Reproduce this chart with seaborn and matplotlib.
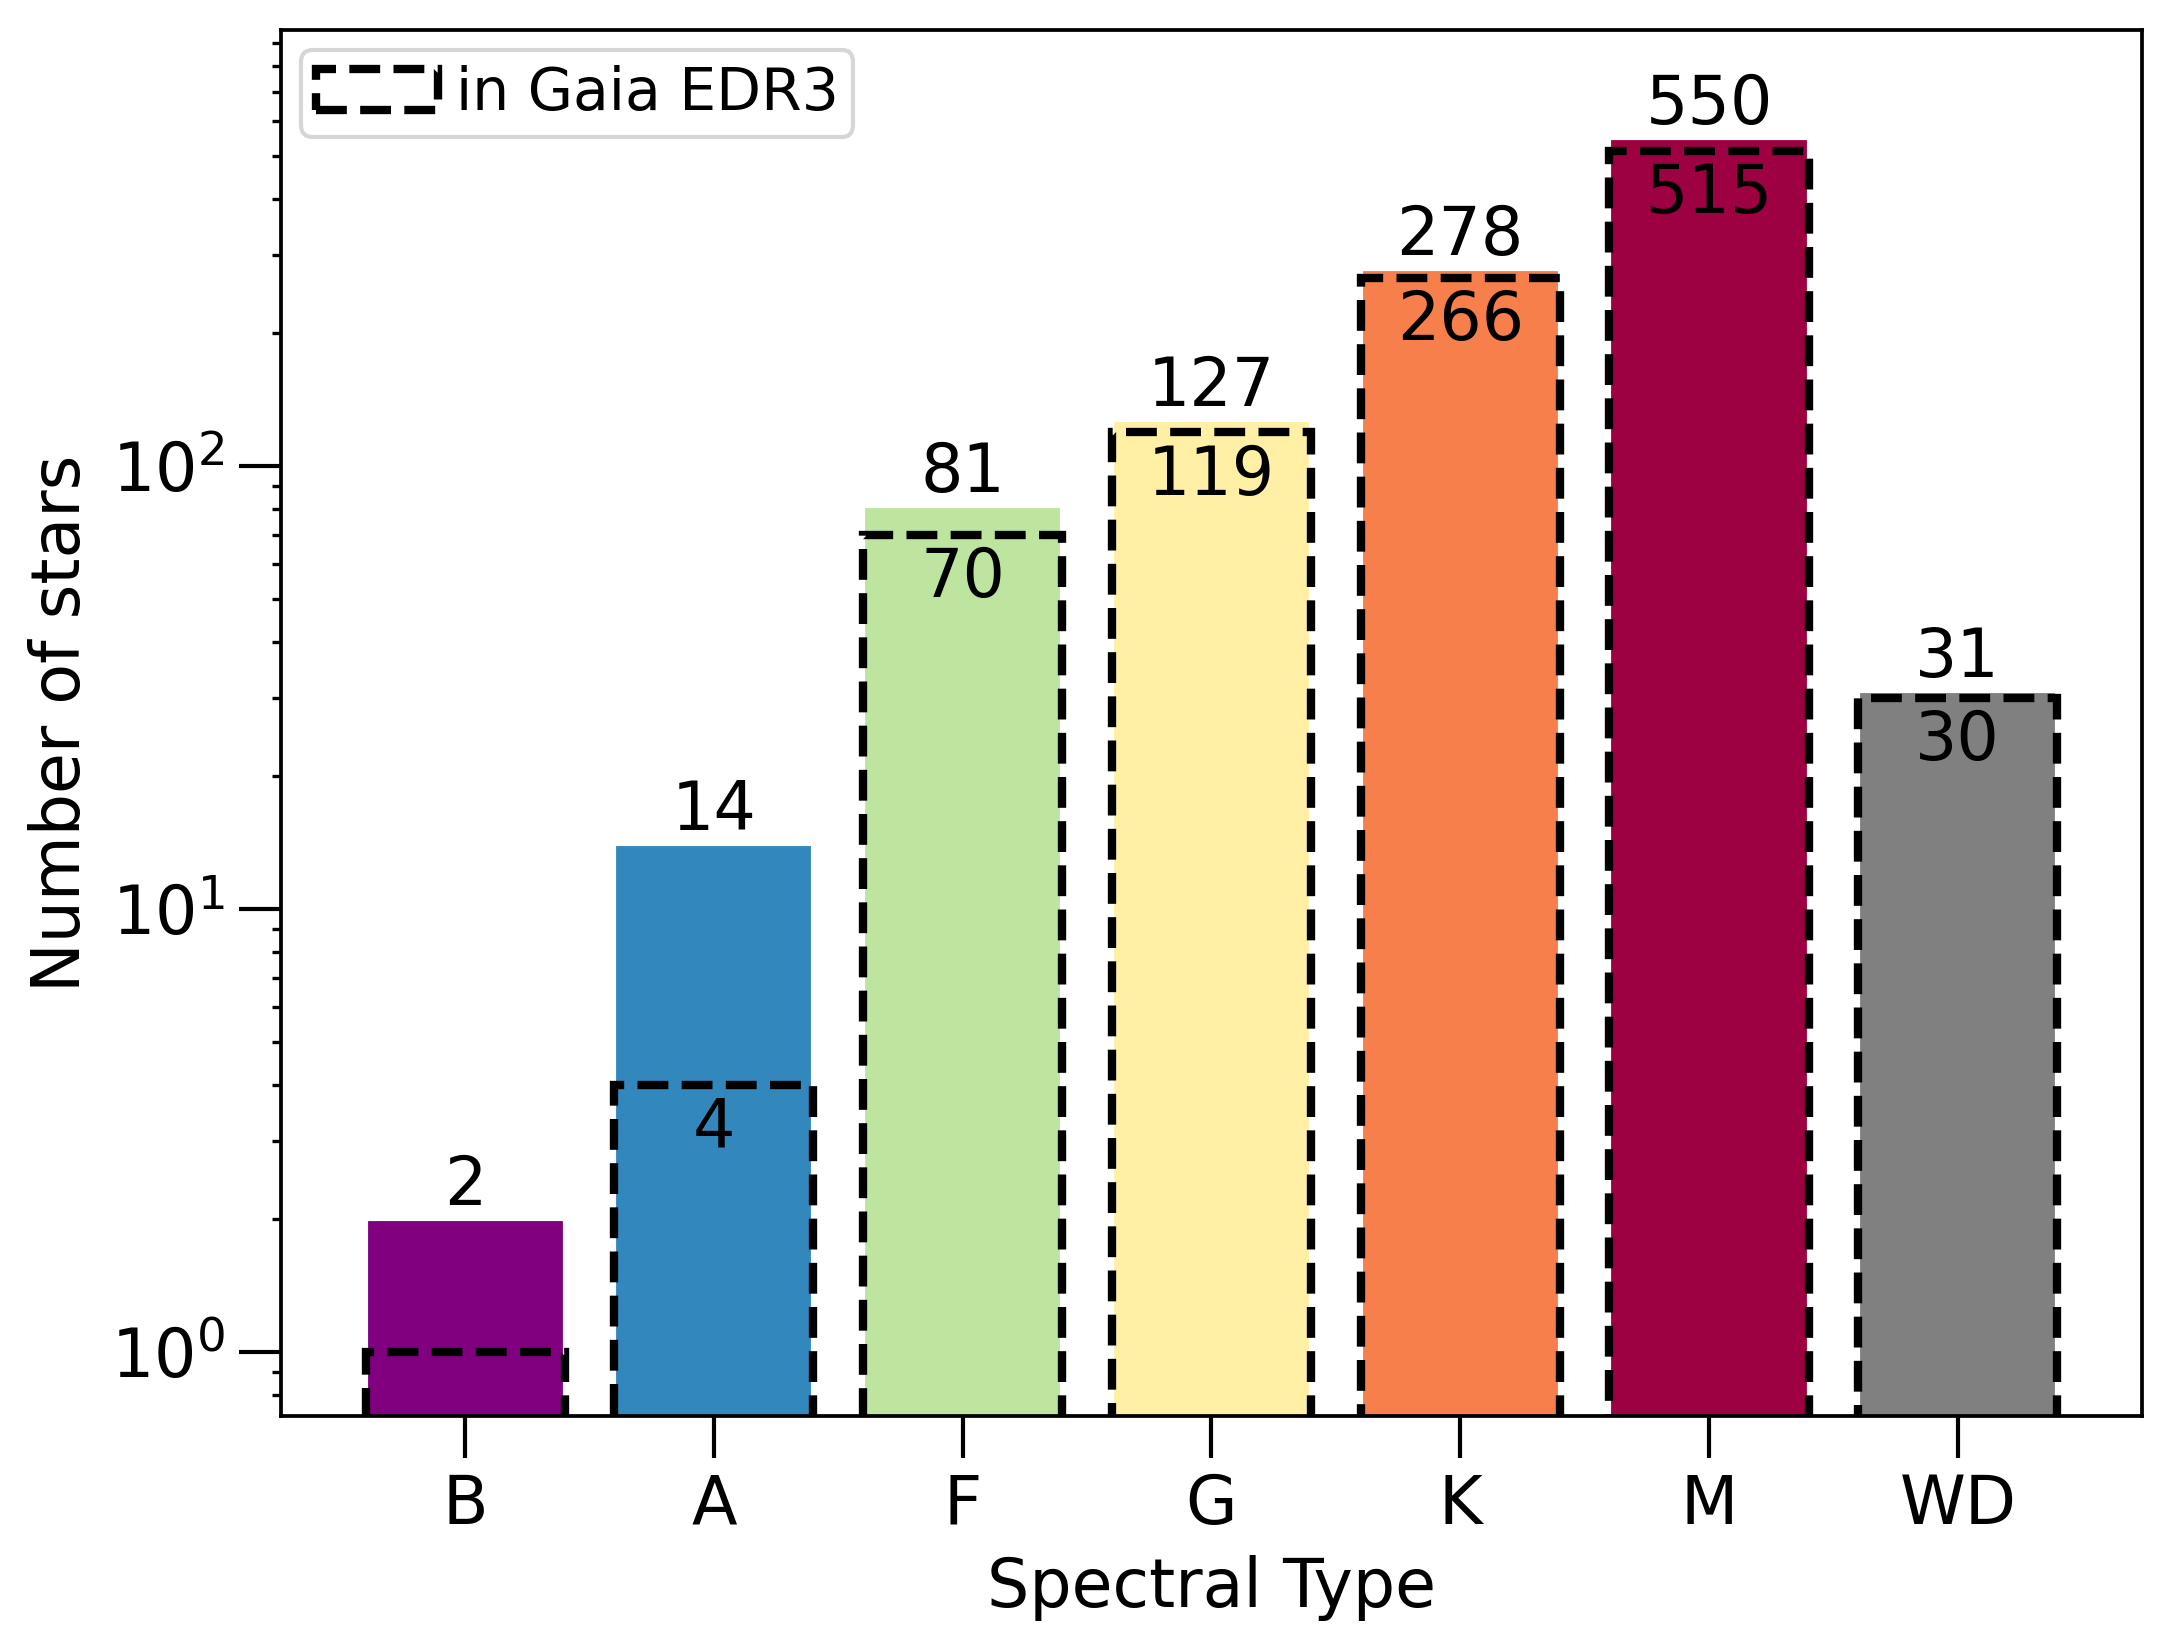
"""
Spectral type counts of nearby stars, total vs. those found in Gaia EDR3
"""

import pandas as pd
import matplotlib.pyplot as plt
import seaborn as sns
from matplotlib.patches import Patch

# data
spectral_types = ['B', 'A', 'F', 'G', 'K', 'M', 'WD']
n_total = [2, 14, 81, 127, 278, 550, 31]
n_gaia = [1, 4, 70, 119, 266, 515, 30]
bar_colors = ['#800080', '#3288bd', '#bde5a0', '#fff0a5', '#f77f4b', '#9e0142', '#808080']

sns.set_theme(style='ticks')
plt.rcParams['font.family'] = ['DejaVu Sans']
plt.rcParams['text.color'] = 'black'
plt.rcParams['axes.labelcolor'] = 'black'
plt.rcParams['xtick.color'] = 'black'
plt.rcParams['ytick.color'] = 'black'


def plot_counts():
    df = pd.DataFrame({'type': spectral_types, 'total': n_total, 'gaia': n_gaia})

    fig, ax = plt.subplots(figsize=(2171 / 300, 1646 / 300), dpi=300)
    fig.subplots_adjust(left=0.1294, right=0.9866, top=0.9818, bottom=0.1397)

    # total counts, filled bars
    sns.barplot(data=df, x='type', y='total', hue='type', palette=bar_colors,
                order=spectral_types, legend=False, saturation=1, width=0.8, ax=ax)
    n_filled = len(ax.patches)

    # counts in Gaia EDR3, dashed outlines
    sns.barplot(data=df, x='type', y='gaia', order=spectral_types, color='black',
                saturation=1, width=0.8, ax=ax)
    for p in ax.patches[n_filled:]:
        p.set_facecolor('none')
        p.set_edgecolor('black')
        p.set_linestyle('--')
        p.set_linewidth(2)

    ax.set_yscale('log')
    ax.set_ylim(0.717, 964)
    ax.set_xlim(-0.74, 6.74)

    for i, (tot, gaia) in enumerate(zip(n_total, n_gaia)):
        ax.annotate(str(tot), (i, tot), ha='center', va='bottom', fontsize=16)
        # the label for a single star would sit on the axis, leave it out
        if gaia > 1:
            ax.annotate(str(gaia), (i, gaia), xytext=(0, -2.5), textcoords='offset points',
                        ha='center', va='top', fontsize=16)

    ax.set_xlabel('Spectral Type', fontsize=16)
    ax.set_ylabel('Number of stars', fontsize=16)
    ax.tick_params(which='major', length=10, width=1, labelsize=16, color='black')
    ax.tick_params(which='minor', length=2.2, width=0.8, color='black')
    for s in ax.spines.values():
        s.set_linewidth(0.9)
        s.set_color('black')

    handle = Patch(facecolor='none', edgecolor='black', linestyle='--', linewidth=2)
    ax.legend([handle], ['in Gaia EDR3'], loc='upper left', fontsize=14,
              borderpad=0.25, borderaxespad=0.35, handletextpad=0.3,
              handlelength=2.1, framealpha=0.8)

    fig.savefig('out.png', dpi=300)


if __name__ == '__main__':
    plot_counts()
